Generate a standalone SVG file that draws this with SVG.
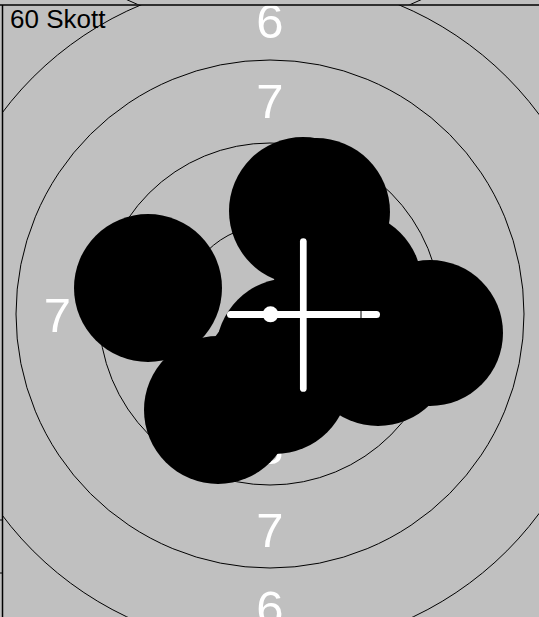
<svg xmlns="http://www.w3.org/2000/svg" width="539" height="617" viewBox="0 0 539 617">
<style>
.ring{fill:none;stroke:#000;stroke-width:1}
.num{font-family:"Liberation Sans",Arial,sans-serif;font-size:49px;fill:#fff;text-anchor:middle}
.shot{fill:#000}
.cross{stroke:#fff;stroke-linecap:round;fill:none}
</style>
<defs>
<clipPath id="topstrip"><rect x="0" y="0" width="539" height="4.5"/></clipPath>
<clipPath id="main"><rect x="3" y="5" width="536" height="612"/></clipPath>
</defs>
<rect x="0" y="0" width="539" height="617" fill="#c0c0c0"/>
<g id="upper-panel" clip-path="url(#topstrip)">
<circle class="ring" cx="274" cy="-320" r="352"/>
</g>
<g id="target" clip-path="url(#main)">
<g id="rings">
<circle class="ring" cx="270" cy="314" r="89"/>
<circle class="ring" cx="270" cy="314" r="171"/>
<circle class="ring" cx="270" cy="314" r="254"/>
<circle class="ring" cx="270" cy="314" r="335"/>
</g>
<g id="labels">
<text class="num" x="270" y="38">6</text>
<text class="num" x="270" y="118">7</text>
<text class="num" x="57.5" y="332">7</text>
<text class="num" x="483" y="332">7</text>
<text class="num" x="270" y="547">7</text>
<text class="num" x="270" y="625">6</text>
<text class="num" x="270" y="464">8</text>
<text class="num" x="270" y="202">8</text>
<text class="num" x="140" y="332">8</text>
<text class="num" x="400" y="332">8</text>
</g>
<g id="shots">
<circle class="shot" cx="148" cy="288" r="74"/>
<circle class="shot" cx="303" cy="211" r="74"/>
<circle class="shot" cx="316" cy="212" r="74"/>
<circle class="shot" cx="348" cy="285" r="74"/>
<circle class="shot" cx="430" cy="333" r="73"/>
<circle class="shot" cx="378" cy="352" r="74"/>
<circle class="shot" cx="290" cy="352" r="74"/>
<circle class="shot" cx="275" cy="380" r="74"/>
<circle class="shot" cx="218" cy="410" r="74"/>
</g>
<g id="crosshair">
<line class="cross" x1="230.5" y1="314.5" x2="376.5" y2="314.5" stroke-width="7"/>
<line class="cross" x1="303.3" y1="241.6" x2="303.3" y2="388.4" stroke-width="6.7"/>
<line x1="361" y1="311" x2="361" y2="318" stroke="#000" stroke-width="1"/>
<circle cx="270.5" cy="314.3" r="8" fill="#fff"/>
</g>
</g>
<g id="frame">
<line x1="0" y1="5" x2="539" y2="5" stroke="#000" stroke-width="1.5"/>
<line x1="2.5" y1="5" x2="2.5" y2="617" stroke="#000" stroke-width="1.5"/>
<line x1="0" y1="520" x2="3" y2="520" stroke="#000" stroke-width="1"/>
<line x1="0" y1="573" x2="3" y2="573" stroke="#000" stroke-width="1"/>
</g>
<g id="title">
<text x="10" y="28" font-family="Liberation Sans, Arial, sans-serif" font-size="26" fill="#000">60 Skott</text>
</g>
</svg>
